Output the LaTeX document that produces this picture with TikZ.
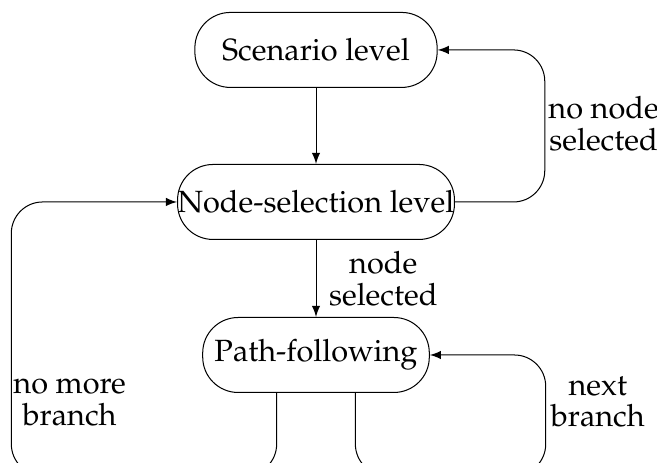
\documentclass[tikz,border=0pt]{standalone}
\usepackage[T1]{fontenc}
\usepackage{mathpazo}
\begin{document}
\begin{tikzpicture}[>=latex, line width=0.35pt,
    font=\fontsize{10.6}{10.9}\selectfont,
    level/.style={draw, rounded corners=0.43cm, minimum height=0.91cm, inner sep=0pt},
    loop/.style={->, rounded corners=0.38cm},
    lbl/.style={align=center}]
    \useasboundingbox (-3.835,-3.167) rectangle (4.138,2.451);
    \clip (-3.835,-3.167) rectangle (4.138,2.451);
%    \draw[help lines] (-4,-3) grid (4,2);
    \node[level, minimum width=2.94cm](scenario) at (0,1.845) {Scenario level};
    \node[level, minimum width=3.36cm](nodesel)  at (0,0)     {Node-selection level};
    \node[level, minimum width=2.75cm](pathf)    at (0,-1.857){Path-following};

    \node[lbl](nonode)   at (3.49,0.95)   {no node\\selected};
    \node[lbl](nomore)   at (-2.99,-2.43) {no more\\branch};
    \node[lbl](nextbr)   at (3.42,-2.43)  {next\\branch};

    \draw[->] (scenario) to (nodesel);
    \draw[->] (nodesel)  to node[right, lbl, xshift=1pt]{node\\selected} (pathf);
    \draw[loop] (nodesel.east) -- ++(1.09,0) |- (scenario.east);
    \draw[loop] (pathf.-136) -- ++(0,-1) -- ++(-3.22,0) |- (nodesel.west);
    \draw[loop] (pathf.-44)  -- ++(0,-1) -- ++(2.31,0)  |- (pathf.east);
\end{tikzpicture}
\end{document}
